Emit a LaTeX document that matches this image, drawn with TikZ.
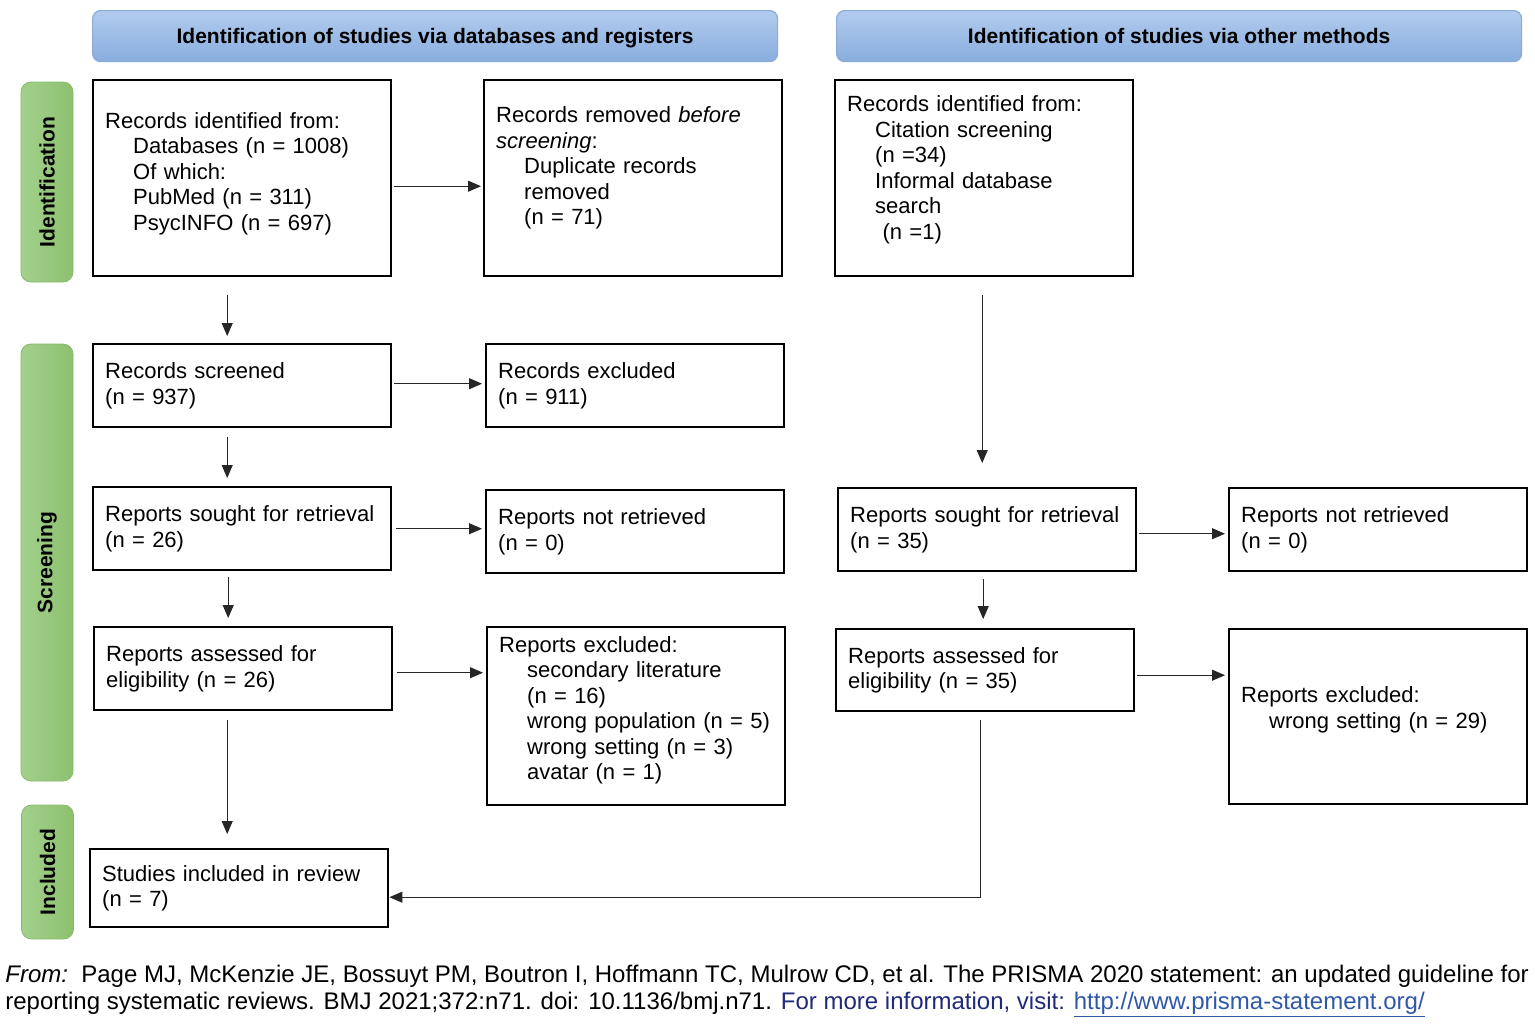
\documentclass[tikz,border=0pt]{standalone}
\usepackage{fontspec}
\setmainfont{Liberation Sans}
\usepackage{tikz}
\usetikzlibrary{arrows.meta}
\usepackage{xcolor}
\definecolor{headtop}{HTML}{B2CCEE}
\definecolor{headbot}{HTML}{88ADDE}
\definecolor{headline}{HTML}{8AAAD8}
\definecolor{stageleft}{HTML}{A3D08C}
\definecolor{stageright}{HTML}{8CC16F}
\definecolor{stageline}{HTML}{86BA6A}
\definecolor{infoblue}{HTML}{1F2A7A}
\definecolor{linkblue}{HTML}{2F58A8}
\newcommand{\ind}{\hspace*{14pt}}
\newcommand{\flowbox}[6][0pt] {
    \node[flow,minimum height=#5,anchor=north west]
        (#2) at (#3,#4) {#6\rule[-#1]{0pt}{#1}};
}
\newcommand{\stage}[5] {
    \node[stagebar,minimum width=#4]
        (#1) at (#2,#3) {#5};
}
\newcommand{\header}[4] {
    \node[head,anchor=north west]
        (#1) at (#2,#3) {#4};
}
\begin{document}
\begin{tikzpicture}[
        x=0.5pt,
        y=-0.5pt,
        flow/.style={draw,line width=1.2pt,minimum width=149pt,text width=137pt,
            inner xsep=6pt,inner ysep=4pt,align=left,
            font=\fontsize{11}{12.75}\selectfont},
        head/.style={draw=headline,line width=0.6pt,rounded corners=4pt,
            top color=headtop,bottom color=headbot,minimum width=342.5pt,
            minimum height=25.5pt,text height=7.6pt,text depth=0pt,
            font=\fontsize{10.5}{12}\selectfont\bfseries},
        stagebar/.style={draw=stageline,line width=0.4pt,
            rounded corners=5pt,rotate=90,minimum height=26pt,
            left color=stageleft,right color=stageright,
            font=\fontsize{10.5}{12}\selectfont\bfseries},
        arr/.style={-{Triangle[length=6.5pt,width=5.5pt]},line width=0.5pt,
            draw=black!85},
        source/.style={anchor=base west,inner sep=0pt,
            font=\fontsize{12}{14}\selectfont},
    ]
        \useasboundingbox (0,0) rectangle (1535,1030);
        % headers and stages
        \header{headdb}{92}{10}{Identification of studies via databases and registers}
        \header{headother}{836}{10}{Identification of studies via other methods}
        \stage{stident}{47}{182}{100pt}{Identification}
        \stage{stscreen}{47}{562.5}{218.5pt}{Screening}
        \stage{stincl}{47.5}{872}{67pt}{Included}
        % databases and registers
        \flowbox[6.8pt]{recdb}{92}{79}{98pt}{Records identified from:\\
            \ind Databases (n = 1008)\\ \ind Of which:\\
            \ind PubMed (n = 311)\\ \ind PsycINFO (n = 697)}
        \flowbox[12.3pt]{removed}{483}{79}{98pt}{Records removed \emph{before}\\
            \emph{screening}:\\ \ind Duplicate records\\
            \ind removed\\ \ind (n = 71)}
        \flowbox{screened}{92}{343}{41.5pt}{Records screened\\ (n = 937)}
        \flowbox{recexcl}{485}{343}{41.5pt}{Records excluded\\ (n = 911)}
        \flowbox{soughtdb}{92}{486}{41.5pt}{Reports sought for retrieval\\ (n = 26)}
        \flowbox{notretdb}{485}{489}{41.5pt}{Reports not retrieved\\ (n = 0)}
        \flowbox{assessdb}{93}{626}{41.5pt}{Reports assessed for\\ eligibility (n = 26)}
        \flowbox[8.3pt]{excldb}{486}{626}{89pt}{Reports excluded:\\
            \ind secondary literature\\ \ind (n = 16)\\
            \ind wrong population (n = 5)\\ \ind wrong setting (n = 3)\\
            \ind avatar (n = 1)}
        \flowbox{included}{89}{848}{39pt}{Studies included in review\\ (n = 7)}
        % other methods
        \flowbox[10.5pt]{recother}{834}{79}{98pt}{Records identified from:\\
            \ind Citation screening\\ \ind (n =34)\\
            \ind Informal database\\ \ind search\\ \ind\ (n =1)}
        \flowbox{soughtother}{837}{487}{41.5pt}{Reports sought for retrieval\\ (n = 35)}
        \flowbox{notretother}{1228}{487}{41.5pt}{Reports not retrieved\\ (n = 0)}
        \flowbox{assessother}{835}{628}{41pt}{Reports assessed for\\ eligibility (n = 35)}
        \flowbox[9.3pt]{exclother}{1228}{628}{87.5pt}{Reports excluded:\\
            \ind wrong setting (n = 29)}
        % arrows, left column
        \draw[arr,shorten <=9pt,shorten >=3.5pt] ([xshift=-7.5pt]recdb.south)
            -- ([xshift=-7.5pt]recdb.south |- screened.north);
        \draw[arr,shorten <=4.5pt,shorten >=4pt] ([xshift=-7.5pt]screened.south)
            -- ([xshift=-7.5pt]screened.south |- soughtdb.north);
        \draw[arr,shorten <=3pt,shorten >=4pt] ([xshift=-7pt]soughtdb.south)
            -- ([xshift=-7pt]soughtdb.south |- assessdb.north);
        \draw[arr,shorten <=4.5pt,shorten >=7pt] ([xshift=-8pt]assessdb.south)
            -- ([xshift=-8pt]assessdb.south |- included.north);
        \draw[arr,shorten <=1pt,shorten >=1pt] ([yshift=-4pt]recdb.east)
            -- ([yshift=-4pt]recdb.east -| removed.west);
        \draw[arr,shorten <=1pt,shorten >=1.5pt] ([yshift=1pt]screened.east)
            -- ([yshift=1pt]screened.east -| recexcl.west);
        \draw[arr,shorten <=2pt,shorten >=1.5pt] (soughtdb.east)
            -- (soughtdb.east -| notretdb.west);
        \draw[arr,shorten <=2pt,shorten >=1.5pt] ([yshift=-2pt]assessdb.east)
            -- ([yshift=-2pt]assessdb.east -| excldb.west);
        % arrows, right column
        \draw[arr,shorten <=9pt,shorten >=12pt] ([xshift=-1pt]recother.south)
            -- ([xshift=-1pt]recother.south |- soughtother.north);
        \draw[arr,shorten <=3.5pt,shorten >=4.5pt] ([xshift=-2pt]soughtother.south)
            -- ([xshift=-2pt]soughtother.south |- assessother.north);
        \draw[arr,shorten <=1pt,shorten >=1.5pt] ([yshift=-2pt]soughtother.east)
            -- ([yshift=-2pt]soughtother.east -| notretother.west);
        \draw[arr,shorten <=1pt,shorten >=1.5pt] ([yshift=-2.5pt]assessother.east)
            -- ([yshift=-2.5pt]assessother.east -| exclother.west);
        \draw[arr,shorten <=4pt] ([xshift=-2.5pt]assessother.south)
            |- ([yshift=-4.5pt]included.east);
        % source
        \node[source] (srcone) at (5,982)
            {\emph{From:}\ \ Page MJ, McKenzie JE, Bossuyt PM, Boutron I, Hoffmann TC, Mulrow CD, et al. The PRISMA 2020 statement: an updated guideline for};
        \node[source] (srctwo) at (5,1009)
            {reporting systematic reviews. BMJ 2021;372:n71. doi: 10.1136/bmj.n71. \textcolor{infoblue}{For more information, visit:} \textcolor{linkblue}{\underline{http://www.prisma-statement.org/}}};
    \end{tikzpicture}
\end{document}
